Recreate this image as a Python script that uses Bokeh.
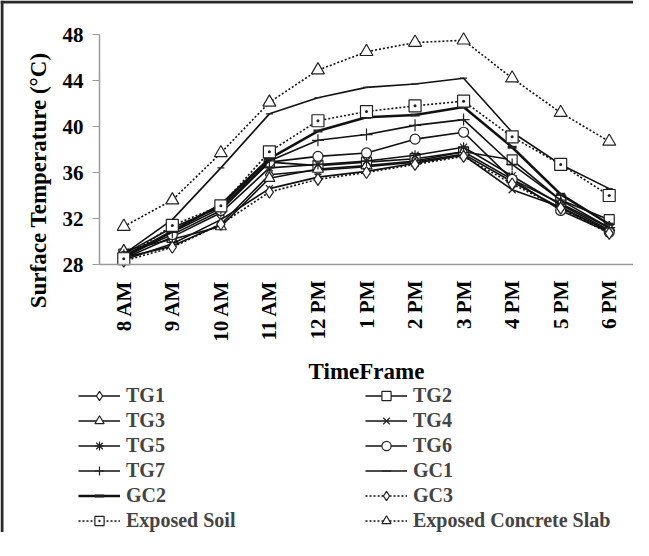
import math
from bokeh.plotting import figure
from bokeh.models import (Legend, LegendItem, Range1d, FixedTicker, Label, BoxAnnotation)
from bokeh.embed import file_html
from bokeh.resources import INLINE

times = ["8 AM", "9 AM", "10 AM", "11 AM", "12 PM", "1 PM", "2 PM", "3 PM", "4 PM", "5 PM", "6 PM"]

tg1 = [28.6, 29.6, 31.5, 35.8, 36.2, 36.5, 36.9, 37.6, 35.2, 32.9, 30.9]
tg2 = [28.9, 31.2, 33.0, 36.9, 36.6, 36.9, 37.2, 37.8, 37.1, 33.6, 31.9]
tg3 = [29.2, 30.2, 31.3, 35.5, 36.3, 36.6, 37.0, 37.8, 35.4, 33.3, 31.2]
tg4 = [28.4, 29.8, 31.9, 34.6, 35.6, 36.1, 36.8, 37.5, 34.5, 33.0, 30.9]
tg5 = [28.5, 30.4, 32.5, 36.4, 36.7, 37.0, 37.5, 38.2, 35.7, 33.2, 31.0]
tg6 = [28.7, 30.6, 32.7, 36.9, 37.4, 37.7, 38.9, 39.5, 35.4, 32.7, 30.8]
tg7 = [28.8, 30.8, 32.9, 37.0, 38.8, 39.3, 40.1, 40.6, 36.7, 33.6, 31.2]
gc1 = [28.9, 31.9, 36.4, 41.1, 42.5, 43.4, 43.7, 44.2, 39.5, 36.7, 34.6]
gc2 = [28.6, 30.9, 33.2, 37.2, 39.6, 40.8, 41.0, 41.7, 38.2, 34.1, 31.5]
gc3 = [28.3, 29.5, 31.5, 34.3, 35.4, 36.0, 36.7, 37.4, 35.0, 32.9, 30.7]
exposed_soil = [28.5, 31.4, 33.1, 37.8, 40.5, 41.3, 41.8, 42.2, 39.1, 36.7, 34.0]
exposed_concrete = [31.3, 33.6, 37.7, 42.1, 44.9, 46.5, 47.3, 47.5, 44.2, 41.2, 38.7]

y_ticks = [28, 32, 36, 40, 44, 48]
y_min, y_max = 28, 48

series = [
    ("TG1", tg1, "diamond", "solid", 12),
    ("TG2", tg2, "square", "solid", 10),
    ("TG3", tg3, "triangle", "solid", 11),
    ("TG4", tg4, "x", "solid", 10),
    ("TG5", tg5, "asterisk", "solid", 10),
    ("TG6", tg6, "circle", "solid", 10),
    ("TG7", tg7, "cross", "solid", 12),
    ("GC1", gc1, "dash", "solid", 7),
    ("GC2", gc2, "dash", "solid", 9),
    ("GC3", gc3, "diamond", "2 2", 12),
    ("Exposed Soil", exposed_soil, "square_dot", "2 2", 12),
    ("Exposed Concrete Slab", exposed_concrete, "triangle", "2 2", 13),
]

FONT = "Liberation Serif"

# ---- layout geometry (pixels) ----
W, H = 633, 532            # canvas size
PAGE = 8                   # page margin
PLOT_L, PLOT_R = 107, 641  # plot area, page px
PLOT_T, PLOT_B = 42, 272
BORDER = 3

n = len(times)
xs = list(range(n))
px_x = (PLOT_R - PLOT_L) / n
x_lo = -0.5 - (PLOT_L - PAGE) / px_x
x_hi = -0.5 + (PAGE + W - PLOT_L) / px_x
px_y = (PLOT_B - PLOT_T) / (y_max - y_min)
y_hi = y_max + (PLOT_T - PAGE) / px_y
y_lo = y_min - (PAGE + H - PLOT_B) / px_y

p = figure(width=W, height=H, x_range=Range1d(x_lo, x_hi), y_range=Range1d(y_lo, y_hi),
           output_backend="svg", toolbar_location=None,
           min_border=0, min_border_left=0, min_border_right=0,
           min_border_top=0, min_border_bottom=0)
p.outline_line_color = None
p.xgrid.grid_line_color = None
p.ygrid.grid_line_color = None

# chart border (top and left edges)
p.add_layout(BoxAnnotation(left=x_lo, right=x_lo + BORDER / px_x,
                           fill_color="#2a2a2a", fill_alpha=1, line_color=None))
p.add_layout(BoxAnnotation(bottom=y_hi - BORDER / px_y, top=y_hi,
                           fill_color="#2a2a2a", fill_alpha=1, line_color=None))

items = []
for name, vals, marker, dash, size in series:
    lw = 2.6 if name == "GC2" else 1.6
    mlw = 3 if name == "GC2" else 1.2
    r1 = p.line(xs, vals, line_color="#111111", line_width=lw, line_dash=dash)
    r2 = p.scatter(xs, vals, marker=marker, size=size, line_color="#222222",
                   fill_color="white", line_width=mlw)
    items.append(LegendItem(label=name, renderers=[r1, r2]))

xa = p.xaxis[0]
ya = p.yaxis[0]
xa.fixed_location = y_min
xa.bounds = (-0.5, n - 0.5)
xa.ticker = FixedTicker(ticks=xs)
xa.major_label_overrides = {i: t for i, t in zip(xs, times)}
ya.fixed_location = -0.5
ya.bounds = (y_min, y_max)
ya.ticker = FixedTicker(ticks=y_ticks)
xa.axis_label = "TimeFrame"
for ax in (xa, ya):
    ax.axis_line_color = "#9a9a9a"
    ax.axis_line_width = 1.5
    ax.major_tick_line_color = "#9a9a9a"
    ax.minor_tick_line_color = None
    ax.major_tick_in = 0
    ax.major_label_text_font = FONT
    ax.major_label_text_font_style = "bold"
    ax.major_label_text_font_size = "21px"
    ax.major_label_text_color = "black"
    ax.axis_label_text_font = FONT
    ax.axis_label_text_font_style = "bold"
    ax.axis_label_text_font_size = "23px"
    ax.axis_label_text_color = "black"
ya.major_tick_out = 7
ya.major_label_standoff = 9
xa.major_tick_out = 0
xa.major_label_orientation = math.pi / 2
xa.major_label_standoff = 16
xa.axis_label_standoff = 14

# y-axis title
ylab_px_x, ylab_px_y = 46, 185
ylab = Label(x=-0.5 - (PLOT_L - ylab_px_x) / px_x,
             y=y_min + (PLOT_B - ylab_px_y) / px_y,
             text="Surface  Temperature (°C)", angle=math.pi / 2,
             text_align="center", text_baseline="middle",
             text_font=FONT, text_font_style="bold", text_font_size="23px",
             text_color="black")
p.add_layout(ylab)

legend = Legend(items=items, ncols=2, orientation="horizontal", location=(78, 0))
legend.label_text_font = FONT
legend.label_text_font_style = "bold"
legend.label_text_font_size = "20px"
legend.label_width = 237
legend.label_height = 23
legend.glyph_width = 42
legend.glyph_height = 23
legend.label_standoff = 6
legend.spacing = 2
legend.padding = 0
legend.margin = 0
legend.border_line_color = None
legend.background_fill_alpha = 0
p.add_layout(legend, "center")

open("out.html", "w").write(file_html(p, INLINE))
